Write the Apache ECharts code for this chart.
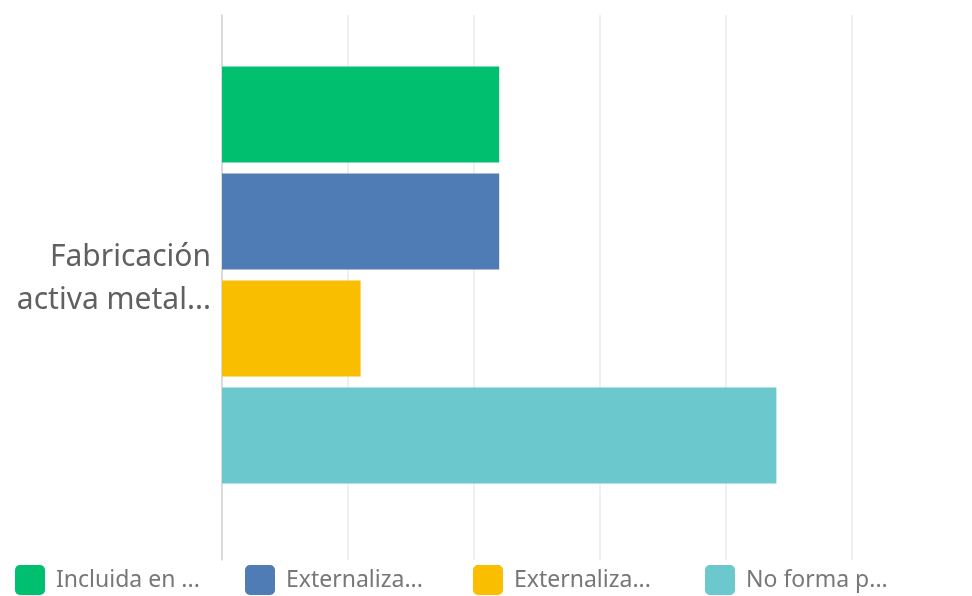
<!DOCTYPE html>
<html>
<head>
<meta charset="utf-8">
<script src="https://cdn.jsdelivr.net/npm/echarts@6/dist/echarts.min.js"></script>
<style>
html,body{margin:0;padding:0;background:#fff;}
#chart{width:972px;height:596px;}
</style>
</head>
<body>
<div id="chart"></div>
<script>
var categories = ['Fabricación\nactiva metal...'];
var seriesNames = ['Incluida en ...', 'Externaliza... A', 'Externaliza... B', 'No forma p...'];
var legendLabels = ['Incluida en ...', 'Externaliza...', 'Externaliza...', 'No forma p...'];
var seriesValues = [[44], [44], [22], [88]];
var seriesColors = ['#00BF6F', '#507CB6', '#F9BE00', '#6BC8CD'];
var xTicks = { min: 0, max: 100, interval: 20 };

var chart = echarts.init(document.getElementById('chart'), null, { renderer: 'canvas' });
var font = 'Noto Sans';
var legendLefts = [15, 245, 473, 705];

var legends = seriesNames.map(function (n, i) {
  return {
    data: [n],
    left: legendLefts[i],
    top: 565,
    padding: 0,
    itemWidth: 30,
    itemHeight: 30,
    icon: 'path://M5,0 H25 A5,5 0 0 1 30,5 V25 A5,5 0 0 1 25,30 H5 A5,5 0 0 1 0,25 V5 A5,5 0 0 1 5,0 Z',
    selectedMode: false,
    formatter: function () { return legendLabels[i]; },
    textStyle: { fontFamily: font, fontSize: 23, color: '#777', padding: [2, 0, 0, 6] }
  };
});

var option = {
  backgroundColor: '#fff',
  animation: false,
  legend: legends,
  grid: [
    { left: 222, top: 15, width: 630, height: 545 },
    { left: 222, top: 15, width: 630, height: 520 }
  ],
  xAxis: [
    { gridIndex: 0, type: 'value', min: xTicks.min, max: xTicks.max, interval: xTicks.interval,
      axisLabel: { show: false }, axisLine: { show: false }, axisTick: { show: false },
      splitLine: { show: true, lineStyle: { color: '#ebebeb', width: 1.5 } } },
    { gridIndex: 1, type: 'value', min: xTicks.min, max: xTicks.max, interval: xTicks.interval,
      axisLabel: { show: false }, axisLine: { show: false }, axisTick: { show: false },
      splitLine: { show: false } }
  ],
  yAxis: [
    { gridIndex: 0, type: 'category', data: [''],
      axisLabel: { show: false }, axisTick: { show: false },
      axisLine: { show: true, lineStyle: { color: '#d4d4d4', width: 1.5 } } },
    { gridIndex: 1, type: 'category', data: categories,
      axisTick: { show: false }, axisLine: { show: false },
      axisLabel: {
        margin: 11, align: 'right',
        formatter: function (v) {
          return v.split('\n').map(function (s) { return '{t|' + s + '}'; }).join('\n');
        },
        rich: { t: { fontFamily: font, fontSize: 30, color: '#606060', lineHeight: 43, align: 'right', padding: [8, 0, 0, 0] } }
      } }
  ],
  series: seriesNames.map(function (n, i) {
    return {
      name: n, type: 'bar', xAxisIndex: 1, yAxisIndex: 1,
      data: seriesValues[i], barWidth: 96, barGap: '11.5%',
      itemStyle: { color: seriesColors[i] }
    };
  })
};
chart.setOption(option);
</script>
</body>
</html>
